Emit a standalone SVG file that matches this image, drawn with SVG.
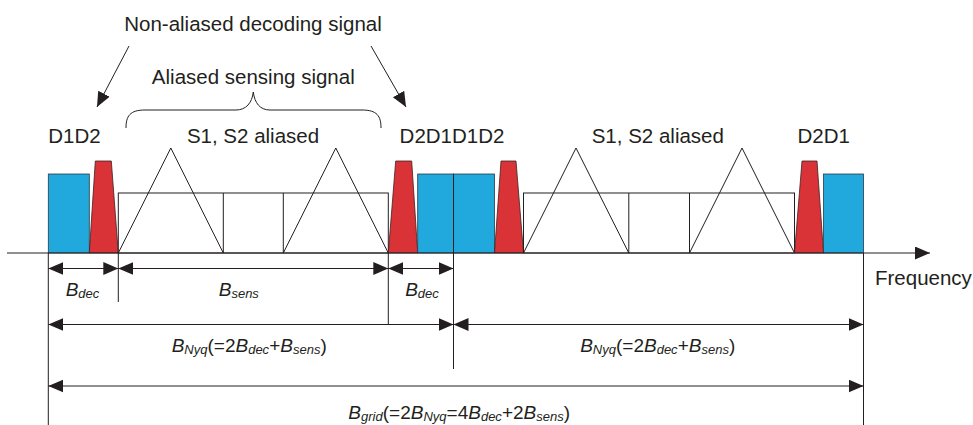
<svg xmlns="http://www.w3.org/2000/svg" width="973" height="425" viewBox="0 0 973 425">
<style>
text{font-family:"Liberation Sans",Arial,Helvetica,sans-serif;fill:#231f20}
.lbl{font-size:20.5px}
.dim{font-size:19px}
.i{font-style:italic}
.sub{font-size:13px;font-style:italic}
.ln{stroke:#231f20;stroke-width:1;fill:none}
.blue{fill:#21a8dd;stroke:#2a3a44;stroke-width:0.8}
.red{fill:#d93338;stroke:#3a2222;stroke-width:0.8}
.sens{fill:#fff;stroke:#231f20;stroke-width:1}
.arr{stroke:#231f20;stroke-width:1;fill:none;marker-start:url(#ah);marker-end:url(#ah)}
.arr1{stroke:#231f20;stroke-width:1;fill:none;marker-end:url(#ah)}
</style>
<defs>
<marker id="ah" markerUnits="userSpaceOnUse" markerWidth="16" markerHeight="14" refX="15" refY="6.5" orient="auto-start-reverse">
<path d="M0,0 L15,6.5 L0,13 z" fill="#231f20"/>
</marker>
</defs>
<rect width="973" height="425" fill="#fff"/>

<g id="period-1">
<rect class="blue" x="48.3" y="174" width="41" height="79"/>
<polygon class="red" points="89.3,253 95.3,161 111.3,161 118.3,253"/>
<rect class="sens" x="118.3" y="193" width="270" height="60"/>
<line class="ln" x1="223.3" y1="193" x2="223.3" y2="253"/>
<line class="ln" x1="283.3" y1="193" x2="283.3" y2="253"/>
<polyline class="ln" points="118.3,253 170.8,148 223.3,253"/>
<polyline class="ln" points="283.3,253 335.8,148 388.3,253"/>
<polygon class="red" points="388.3,253 395.7,161 411.7,161 417.7,253"/>
<rect class="blue" x="417.7" y="174" width="35.8" height="79"/>
</g>

<g id="period-2">
<rect class="blue" x="453.5" y="174" width="41" height="79"/>
<polygon class="red" points="494.5,253 501,161 516,161 523.5,253"/>
<rect class="sens" x="523.5" y="193" width="271" height="60"/>
<line class="ln" x1="628.8" y1="193" x2="628.8" y2="253"/>
<line class="ln" x1="689.5" y1="193" x2="689.5" y2="253"/>
<polyline class="ln" points="523.5,253 576,148 628.8,253"/>
<polyline class="ln" points="689.5,253 742,148 794.5,253"/>
<polygon class="red" points="794.5,253 802,161 817,161 823.5,253"/>
<rect class="blue" x="823.5" y="174" width="40" height="79"/>
</g>

<g id="axis">
<line class="arr1" x1="7" y1="253" x2="930" y2="253"/>
<text class="lbl" x="875" y="285">Frequency</text>
</g>

<g id="labels">
<text class="lbl" x="253" y="31" text-anchor="middle">Non-aliased decoding signal</text>
<text class="lbl" x="253.3" y="83.5" text-anchor="middle">Aliased sensing signal</text>
<path class="ln" d="M126,128 C126,116 130,110 145,110 L236,110 C246,110 252,103 253.3,92 C254.6,103 260,110 270,110 L362,110 C377,110 381,116 381,128"/>
<text class="lbl" x="74.5" y="143.3" text-anchor="middle">D1D2</text>
<text class="lbl" x="253" y="143.3" text-anchor="middle">S1, S2 aliased</text>
<text class="lbl" x="452" y="143.3" text-anchor="middle">D2D1D1D2</text>
<text class="lbl" x="657.8" y="143.3" text-anchor="middle">S1, S2 aliased</text>
<text class="lbl" x="823.7" y="143.3" text-anchor="middle">D2D1</text>
</g>

<g id="connectors">
<line class="arr1" x1="129" y1="46" x2="97" y2="107"/>
<line class="arr1" x1="371" y1="46" x2="406" y2="107"/>
<line class="ln" x1="48.3" y1="253" x2="48.3" y2="425"/>
<line class="ln" x1="118.3" y1="253" x2="118.3" y2="302"/>
<line class="ln" x1="388.3" y1="253" x2="388.3" y2="324.5"/>
<line class="ln" x1="453.5" y1="174" x2="453.5" y2="369"/>
<line class="ln" x1="863.5" y1="253" x2="863.5" y2="425"/>
<line class="arr" x1="48.3" y1="268.5" x2="118.3" y2="268.5"/>
<line class="arr" x1="118.3" y1="268.5" x2="388.3" y2="268.5"/>
<line class="arr" x1="388.3" y1="268.5" x2="453.5" y2="268.5"/>
<line class="arr" x1="48.3" y1="324.5" x2="453.5" y2="324.5"/>
<line class="arr" x1="453.5" y1="324.5" x2="863.5" y2="324.5"/>
<line class="arr" x1="48.3" y1="386" x2="863.5" y2="386"/>
</g>

<g id="dimension-labels">
<text class="dim" x="82.5" y="296" text-anchor="middle"><tspan class="i">B</tspan><tspan class="sub" dy="1.5">dec</tspan></text>
<text class="dim" x="238.8" y="296" text-anchor="middle"><tspan class="i">B</tspan><tspan class="sub" dy="1.5">sens</tspan></text>
<text class="dim" x="422" y="296" text-anchor="middle"><tspan class="i">B</tspan><tspan class="sub" dy="1.5">dec</tspan></text>
<text class="dim" x="249.2" y="352" text-anchor="middle"><tspan class="i">B</tspan><tspan class="sub" dy="1.5">Nyq</tspan><tspan dy="-1.5">(=2</tspan><tspan class="i">B</tspan><tspan class="sub" dy="1.5">dec</tspan><tspan dy="-1.5">+</tspan><tspan class="i">B</tspan><tspan class="sub" dy="1.5">sens</tspan><tspan dy="-1.5">)</tspan></text>
<text class="dim" x="657.7" y="352" text-anchor="middle"><tspan class="i">B</tspan><tspan class="sub" dy="1.5">Nyq</tspan><tspan dy="-1.5">(=2</tspan><tspan class="i">B</tspan><tspan class="sub" dy="1.5">dec</tspan><tspan dy="-1.5">+</tspan><tspan class="i">B</tspan><tspan class="sub" dy="1.5">sens</tspan><tspan dy="-1.5">)</tspan></text>
<text class="dim" x="459.2" y="419" text-anchor="middle"><tspan class="i">B</tspan><tspan class="sub" dy="1.5">grid</tspan><tspan dy="-1.5">(=2</tspan><tspan class="i">B</tspan><tspan class="sub" dy="1.5">Nyq</tspan><tspan dy="-1.5">=4</tspan><tspan class="i">B</tspan><tspan class="sub" dy="1.5">dec</tspan><tspan dy="-1.5">+2</tspan><tspan class="i">B</tspan><tspan class="sub" dy="1.5">sens</tspan><tspan dy="-1.5">)</tspan></text>
</g>
</svg>
